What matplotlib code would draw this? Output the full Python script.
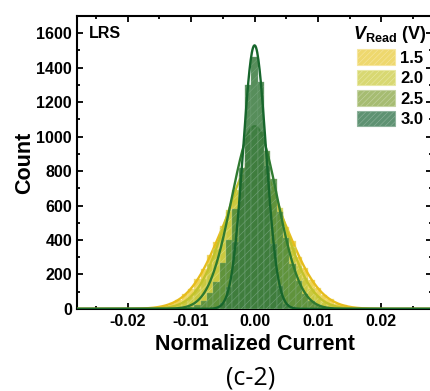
import numpy as np
import matplotlib
matplotlib.use('Agg')
import matplotlib.pyplot as plt
from matplotlib.patches import Patch
from matplotlib.ticker import MultipleLocator

plt.rcParams['font.family'] = 'Liberation Sans'
plt.rcParams['font.weight'] = 'bold'
plt.rcParams['mathtext.fontset'] = 'custom'
plt.rcParams['mathtext.it'] = 'Liberation Sans:bold:italic'
plt.rcParams['mathtext.bf'] = 'Liberation Sans:bold'
plt.rcParams['mathtext.rm'] = 'Liberation Sans:bold'
plt.rcParams['hatch.linewidth'] = 0.4

# bin centres (normalized current), bin width 0.001
centers = np.round(np.arange(-0.014, 0.0141, 0.001), 4)
bin_w = 0.001

labels = ['1.5', '2.0', '2.5', '3.0']
# counts per bin
counts_15 = [18, 34, 51, 84, 118, 172, 230, 310, 388, 482, 560, 648, 702, 741, 752,
             748, 712, 637, 571, 474, 395, 302, 236, 166, 123, 78, 55, 31, 21]
counts_20 = [6, 14, 24, 45, 71, 118, 172, 260, 349, 470, 574, 693, 775, 845, 852,
             832, 784, 682, 584, 458, 358, 251, 181, 113, 75, 41, 26, 12, 7]
counts_25 = [0, 1, 2, 4, 11, 21, 48, 92, 158, 268, 398, 578, 741, 1012, 1048,
             1025, 915, 755, 565, 410, 259, 163, 87, 45, 23, 9, 4, 1, 0]
counts_30 = [0, 0, 0, 0, 0, 0, 0, 1, 5, 34, 126, 390, 818, 1302, 1465,
             1318, 830, 376, 134, 30, 7, 1, 0, 0, 0, 0, 0, 0, 0]
all_counts = [counts_15, counts_20, counts_25, counts_30]

# gaussian fit parameters (mean, sigma, peak)
fit_mean = [0.0, 0.0, 0.0, 0.0]
fit_sigma = [0.0052, 0.0045, 0.0036, 0.0018]
fit_peak = [760, 860, 1060, 1530]

bar_colors = ['#EACB3A', '#C6C83C', '#4E8A3C', '#3A7A3E']
hatch_colors = ['#F5E38C', '#E0E28C', '#86AE78', '#78A67E']
line_colors = ['#E6BC1C', '#C2C22A', '#2F7A30', '#17662C']
leg_colors = ['#EED86E', '#D8D872', '#A6BC72', '#5E9272']
leg_hatch = ['#F6E6A0', '#E8E8A4', '#C6D4A4', '#8EB29C']

fig = plt.figure(figsize=(4.3, 3.91), dpi=100)
ax = fig.add_axes([0.179, 0.21, 0.826, 0.749])

xf = np.linspace(-0.028, 0.028, 600)
for i in range(4):
    ax.bar(centers, all_counts[i], width=bin_w, color=bar_colors[i],
           edgecolor=hatch_colors[i], linewidth=0.3, hatch='////', alpha=0.85,
           zorder=2 + 2 * i)
    yf = fit_peak[i] * np.exp(-(xf - fit_mean[i]) ** 2 / (2 * fit_sigma[i] ** 2))
    ax.plot(xf, yf, color=line_colors[i], lw=1.7, zorder=3 + 2 * i)

ax.set_xlim(-0.028, 0.028)
ax.set_ylim(0, 1700)
ax.xaxis.set_major_locator(MultipleLocator(0.01))
ax.xaxis.set_minor_locator(MultipleLocator(0.005))
ax.yaxis.set_major_locator(MultipleLocator(200))
ax.yaxis.set_minor_locator(MultipleLocator(100))
ax.xaxis.set_major_formatter(matplotlib.ticker.FuncFormatter(lambda v, p: '%.2f' % v))
ax.tick_params(which='both', direction='in', top=True, right=True,
               labelsize=11.5, width=1.3)
ax.tick_params(which='major', length=4.5)
ax.tick_params(which='minor', length=2.5)
for s in ax.spines.values():
    s.set_linewidth(1.5)

ax.set_ylabel('Count', fontsize=15.5, fontweight='bold', labelpad=1)
ax.set_xlabel('Normalized Current', fontsize=15.5, fontweight='bold', labelpad=4)

ax.text(0.034, 0.94, 'LRS', transform=ax.transAxes, fontsize=11.5,
        fontweight='bold', va='center', ha='left')

handles = [Patch(facecolor=leg_colors[i], edgecolor=leg_hatch[i], hatch='//////',
                 linewidth=0.8, label=labels[i]) for i in range(4)]
leg = ax.legend(handles=handles, title=r'$V_{\mathbf{Read}}$ (V)',
                loc='upper right', bbox_to_anchor=(0.999, 0.99), frameon=False,
                prop={'size': 12, 'weight': 'bold'}, title_fontsize=13,
                handlelength=2.3, handleheight=1.05, labelspacing=0.25,
                handletextpad=0.3, borderaxespad=0.1, borderpad=0.2)

fig.text(0.583, 0.033, '(c-2)', fontsize=18, family='Open Sans',
         fontweight='normal', ha='center', va='center')

fig.savefig('out.png', dpi=100)
